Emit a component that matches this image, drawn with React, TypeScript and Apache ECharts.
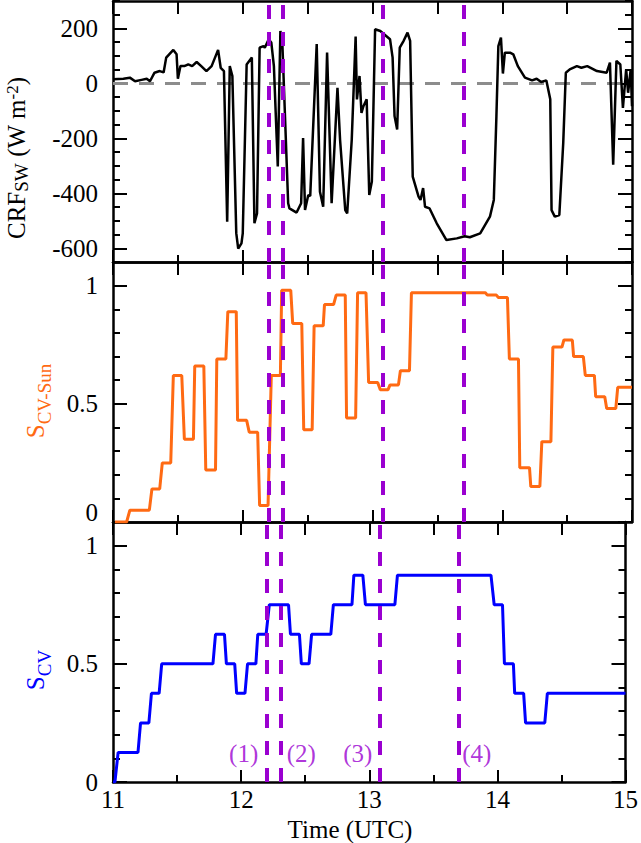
import { useEffect, useRef } from 'react';
import * as echarts from 'echarts';

const FONT = "'Liberation Serif', 'Times New Roman', serif";
const PURPLE = '#9a00d0';
const ORANGE = '#ff6a13';
const BLUE = '#0000ff';

// CRF_SW (W m-2) against time (UTC hours)
const crfTime = [
    11.0, 11.08, 11.13, 11.17, 11.22, 11.26, 11.285, 11.32, 11.36, 11.39, 11.41, 11.465, 11.49, 11.5, 11.52,
    11.55, 11.58, 11.61, 11.645, 11.68, 11.72, 11.76, 11.81, 11.83, 11.855, 11.88, 11.9, 11.92, 11.95, 11.965,
    11.99, 12.0, 12.03, 12.07, 12.09, 12.11, 12.13, 12.16, 12.17, 12.2, 12.22, 12.24, 12.27, 12.29, 12.305,
    12.35, 12.36, 12.415, 12.45, 12.465, 12.48, 12.505, 12.52, 12.57, 12.595, 12.62, 12.65, 12.685, 12.73, 12.75,
    12.79, 12.805, 12.84, 12.87, 12.88, 12.9, 12.915, 12.93, 12.955, 12.975, 12.995, 13.02, 13.06, 13.135, 13.155,
    13.17, 13.19, 13.21, 13.24, 13.27, 13.29, 13.31, 13.355, 13.37, 13.39, 13.405, 13.44, 13.495, 13.57, 13.65,
    13.71, 13.75, 13.83, 13.905, 13.935, 13.955, 13.97, 13.99, 14.005, 14.02, 14.06, 14.085, 14.12, 14.175, 14.23,
    14.265, 14.3, 14.34, 14.37, 14.38, 14.405, 14.44, 14.47, 14.49, 14.52, 14.575, 14.61, 14.655, 14.73, 14.805,
    14.83, 14.855, 14.88, 14.91, 14.93, 14.955, 14.97, 14.99, 15.0
];
const crfValue = [
    15, 17, 21, 8, 13, 17, 8, 39, 45, 40, 94, 122, 106, 17, 63,
    63, 69, 63, 78, 63, 45, 63, 122, 57, 45, -503, 63, 27, -545, -601,
    -582, -546, 69, 94, -509, -473, 130, 136, 130, 161, 149, 63, -302, 191, 149,
    -436, -455, -470, -436, -199, -461, -406, -410, 143, -394, -449, 112, -436, -16, -205,
    -461, -473, -205, 171, -58, 27, -107, -83, -58, -406, -357, 197, 191, 161, 94,
    -119, -168, 130, 155, 185, 155, -339, -412, -424, -381, -449, -455, -509, -570, -564,
    -556, -560, -546, -485, -424, -119, 136, 167, 36, 112, 112, 106, 63, 21, 11,
    17, 5, 11, -58, -461, -485, -479, -217, 39, 51, 63, 57, 63, 45, 39,
    76, -296, 82, 69, -89, 51, -34, 51, -83
];

// S_CV-Sun
const sunTime = [
    11.015, 11.105, 11.13, 11.28, 11.3, 11.36, 11.38, 11.445, 11.465, 11.53, 11.55, 11.62, 11.63, 11.7, 11.715,
    11.79, 11.8, 11.87, 11.885, 11.95, 11.96, 12.03, 12.05, 12.115, 12.13, 12.195, 12.22, 12.29, 12.3, 12.37,
    12.385, 12.455, 12.47, 12.535, 12.55, 12.62, 12.63, 12.7, 12.72, 12.79, 12.8, 12.87, 12.885, 12.95, 12.97,
    13.04, 13.06, 13.12, 13.135, 13.2, 13.215, 13.285, 13.3, 13.87, 13.885, 13.955, 13.97, 14.04, 14.055, 14.125,
    14.135, 14.21, 14.22, 14.29, 14.305, 14.375, 14.39, 14.46, 14.475, 14.54, 14.55, 14.625, 14.64, 14.71, 14.72,
    14.79, 14.805, 14.875, 14.89, 15.0
];
const sunValue = [
    0, 0, 0.05, 0.05, 0.14, 0.14, 0.25, 0.25, 0.62, 0.62, 0.35, 0.35, 0.66, 0.66, 0.22,
    0.22, 0.69, 0.69, 0.89, 0.89, 0.43, 0.43, 0.38, 0.38, 0.07, 0.07, 0.62, 0.62, 0.98, 0.98,
    0.84, 0.84, 0.39, 0.39, 0.83, 0.83, 0.92, 0.92, 0.96, 0.96, 0.44, 0.44, 0.97, 0.97, 0.59,
    0.59, 0.56, 0.56, 0.58, 0.58, 0.64, 0.64, 0.97, 0.97, 0.96, 0.96, 0.95, 0.95, 0.69, 0.69,
    0.23, 0.23, 0.15, 0.15, 0.34, 0.34, 0.74, 0.74, 0.77, 0.77, 0.7, 0.7, 0.62, 0.62, 0.53,
    0.53, 0.48, 0.48, 0.57, 0.57
];

// S_CV
const cvTime = [
    11.0, 11.015, 11.04, 11.195, 11.215, 11.28, 11.3, 11.36, 11.38, 11.78, 11.8, 11.87, 11.885, 11.95, 11.965,
    12.03, 12.05, 12.115, 12.13, 12.195, 12.22, 12.37, 12.385, 12.455, 12.47, 12.53, 12.55, 12.7, 12.72, 12.865,
    12.88, 12.95, 12.97, 13.2, 13.22, 13.95, 13.975, 14.04, 14.055, 14.125, 14.135, 14.205, 14.22, 14.37, 14.39,
    15.0
];
const cvValue = [
    0, 0, 0.125, 0.125, 0.25, 0.25, 0.375, 0.375, 0.5, 0.5, 0.625, 0.625, 0.5, 0.5, 0.375,
    0.375, 0.5, 0.5, 0.625, 0.625, 0.75, 0.75, 0.625, 0.625, 0.5, 0.5, 0.625, 0.625, 0.75, 0.75,
    0.875, 0.875, 0.75, 0.75, 0.875, 0.875, 0.75, 0.75, 0.5, 0.5, 0.375, 0.375, 0.25, 0.25, 0.375,
    0.375
];

// the four marked times
const eventTime = [12.2, 12.31, 13.08, 13.7];
const eventLabel = ['(1)', '(2)', '(3)', '(4)'];
const eventLabelTime = [12.02, 12.47, 12.91, 13.84];
const eventLabelLevel = 0.12;

const crfTicks = [-600, -400, -200, 0, 200];
const scvTicks = [0, 0.5, 1];

const range = (a: number, b: number, step: number) => {
    const out: number[] = [];
    for (let v = a; v <= b + 1e-9; v += step) out.push(Math.round(v * 1000) / 1000);
    return out;
};

const black = { color: '#000', width: 2.5 };
const tickStyle = { color: '#000', width: 2 };

const xAxesFor = (grid: number, showLabels: boolean) => [
    {
        type: 'value', gridIndex: grid, position: 'bottom', min: 11, max: 15, interval: 1,
        axisLine: { onZero: false, lineStyle: black },
        axisTick: { inside: true, length: 12, lineStyle: tickStyle },
        minorTick: { show: true, splitNumber: 2, length: 7, lineStyle: tickStyle },
        axisLabel: { show: showLabels, fontFamily: FONT, fontSize: 25, color: '#000', margin: 5 },
        splitLine: { show: false },
    },
    {
        type: 'value', gridIndex: grid, position: 'top', min: 11, max: 15, interval: 0.5,
        axisLine: { onZero: false, lineStyle: black },
        axisTick: { inside: true, length: 13, lineStyle: tickStyle },
        axisLabel: { show: false },
        splitLine: { show: false },
    },
];

const yAxesFor = (grid: number, min: number, max: number, major: number[], minor: number[], formatter: any, rich?: any) => [
    {
        type: 'value', gridIndex: grid, position: 'left', min, max,
        axisLine: { show: true, onZero: false, lineStyle: black },
        axisTick: { inside: true, length: 14, customValues: major, lineStyle: tickStyle },
        axisLabel: { customValues: major, formatter, rich, fontFamily: FONT, fontSize: 25, color: '#000', margin: 15 },
        splitLine: { show: false },
    },
    {
        type: 'value', gridIndex: grid, position: 'right', min, max,
        axisLine: { show: true, onZero: false, lineStyle: black },
        axisTick: { inside: true, length: 14, customValues: major, lineStyle: tickStyle },
        axisLabel: { show: false },
        splitLine: { show: false },
    },
    {
        type: 'value', gridIndex: grid, position: 'left', min, max,
        axisLine: { show: false, onZero: false },
        axisTick: { inside: true, length: 7, customValues: minor, lineStyle: tickStyle },
        axisLabel: { show: false },
        splitLine: { show: false },
    },
    {
        type: 'value', gridIndex: grid, position: 'right', min, max,
        axisLine: { show: false, onZero: false },
        axisTick: { inside: true, length: 7, customValues: minor, lineStyle: tickStyle },
        axisLabel: { show: false },
        splitLine: { show: false },
    },
];

const eventLines = {
    symbol: ['none', 'none'],
    silent: true,
    label: { show: false },
    lineStyle: { color: PURPLE, width: 4, type: [14, 13] },
    data: eventTime.map((t) => ({ xAxis: t })),
};

const nameRich = (color: string, drop: number) => ({
    m: { fontFamily: FONT, fontSize: 25, fill: color, verticalAlign: 'bottom', padding: [0, 0, drop, 0] },
    s: { fontFamily: FONT, fontSize: 19, fill: color, verticalAlign: 'bottom' },
    p: { fontFamily: FONT, fontSize: 17, fill: color, verticalAlign: 'top' },
});

const App = () => {
    const chartRef = useRef<HTMLDivElement | null>(null);
    useEffect(() => {
        if (!chartRef.current) return;
        const chart = echarts.init(chartRef.current, null, { renderer: 'svg' });
        const zip = (xs: number[], ys: number[]) => xs.map((x, i) => [x, ys[i]]);
        const option = {
            animation: false,
            backgroundColor: '#fff',
            textStyle: { fontFamily: FONT },
            grid: [
                { left: 113, right: 9, top: 1, height: 261 },
                { left: 113, right: 9, top: 262, height: 260 },
                { left: 113, right: 9, top: 522, height: 260 },
            ],
            xAxis: [...xAxesFor(0, false), ...xAxesFor(1, false), ...xAxesFor(2, true)],
            yAxis: [
                ...yAxesFor(0, -650, 300, crfTicks, range(-650, 300, 50), (v: number) => String(v)),
                ...yAxesFor(1, 0, 1.1, scvTicks, range(0, 1.1, 0.1),
                    (v: number) => (v === 0 ? '{z|0}' : String(v)),
                    { z: { fontFamily: FONT, fontSize: 25, color: '#000', padding: [0, 0, 20, 0] } }),
                ...yAxesFor(2, 0, 1.1, scvTicks, range(0, 1.1, 0.1), (v: number) => String(v)),
            ],
            series: [
                {
                    type: 'line', xAxisIndex: 0, yAxisIndex: 0, z: 1, silent: true, symbol: 'none',
                    data: [[11, 0], [15, 0]],
                    lineStyle: { color: '#8c8c8c', width: 3, type: [15, 11] },
                },
                {
                    type: 'line', xAxisIndex: 0, yAxisIndex: 0, z: 2, symbol: 'none',
                    data: zip(crfTime, crfValue),
                    lineStyle: { color: '#000', width: 2.5 },
                    markLine: eventLines,
                },
                {
                    type: 'line', xAxisIndex: 2, yAxisIndex: 4, symbol: 'none',
                    data: zip(sunTime, sunValue),
                    lineStyle: { color: ORANGE, width: 3 },
                    markLine: eventLines,
                },
                {
                    type: 'line', xAxisIndex: 4, yAxisIndex: 8, symbol: 'none',
                    data: zip(cvTime, cvValue),
                    lineStyle: { color: BLUE, width: 3 },
                    markLine: eventLines,
                },
                {
                    type: 'scatter', xAxisIndex: 4, yAxisIndex: 8, symbolSize: 0, silent: true,
                    data: eventLabel.map((name, i) => ({ name, value: [eventLabelTime[i], eventLabelLevel] })),
                    label: { show: true, position: 'inside', formatter: '{b}', fontFamily: FONT, fontSize: 25, color: PURPLE },
                },
            ],
            graphic: [
                {
                    type: 'text', x: 17, y: 158, rotation: Math.PI / 2,
                    style: {
                        text: '{m|CRF}{s|SW}{m| (W m}{p|-2}{m|)}',
                        rich: nameRich('#000', 2), align: 'center', verticalAlign: 'middle',
                    },
                },
                {
                    type: 'text', x: 38, y: 401, rotation: Math.PI / 2,
                    style: {
                        text: '{m|S}{s|CV-Sun}',
                        rich: nameRich(ORANGE, 6), align: 'center', verticalAlign: 'middle',
                    },
                },
                {
                    type: 'text', x: 38, y: 670, rotation: Math.PI / 2,
                    style: {
                        text: '{m|S}{s|CV}',
                        rich: nameRich(BLUE, 6), align: 'center', verticalAlign: 'middle',
                    },
                },
                {
                    type: 'text', x: 350, y: 829,
                    style: {
                        text: 'Time (UTC)', fontFamily: FONT, fontSize: 25, fill: '#000',
                        align: 'center', verticalAlign: 'middle',
                    },
                },
            ],
        };
        chart.setOption(option as any);
        return () => chart.dispose();
    }, []);
    return <div ref={chartRef} style={{ position: 'absolute', left: 0, top: 0, width: 641, height: 843 }} />;
};

export default App;
